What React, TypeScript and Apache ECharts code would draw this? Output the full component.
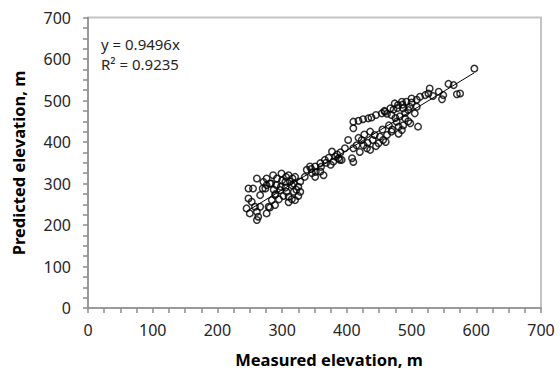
import React, { useEffect, useRef } from "react";
import * as echarts from "echarts";

// Measured vs predicted elevation (m)
const measured: number[] = [
  597, 557, 565, 575, 570, 549, 542, 547, 528, 526, 533, 521,
  410, 418, 425, 433, 438, 410, 454, 459, 467, 474, 479, 485, 492, 500, 508, 513, 469, 487, 495, 505, 508,
  436, 443, 451, 462, 469, 480, 485, 477, 490, 498, 510, 456, 449,
  402, 410, 415, 423, 426, 431, 436, 408, 397, 420, 410, 389,
  377, 382, 387, 392, 379, 366, 359, 351, 343, 338, 346, 359, 364, 335, 351,
  261, 276, 286, 299, 310, 320, 281, 291, 305, 315, 325, 328, 297, 307, 318, 310, 320, 289, 284, 279, 289,
  271, 274, 266, 248, 255, 248, 253, 245, 250, 261, 263, 261, 281, 276, 266, 258,
  292, 300, 305, 312, 318, 322, 298, 287, 302, 315, 325, 310, 295, 283, 290, 306, 316, 328, 276, 270,
  345, 352, 368, 372, 385, 390, 375, 360,
  445, 462, 472, 478, 486, 500, 497, 458, 475, 482, 490, 465, 470, 487, 495, 455, 480, 460, 440, 427, 418, 445, 432,
];
const predicted: number[] = [
  577, 540, 537, 517, 515, 513, 521, 503, 529, 517, 511, 513,
  449, 451, 455, 457, 459, 433, 469, 473, 481, 493, 489, 497, 497, 505, 502, 509, 465, 481, 477, 469, 485,
  425, 417, 413, 417, 425, 437, 429, 449, 457, 445, 437, 405, 397,
  405, 385, 392, 405, 392, 385, 381, 361, 385, 376, 352, 357,
  377, 365, 361, 357, 353, 357, 349, 341, 341, 333, 325, 329, 320, 316, 316,
  312, 312, 320, 324, 320, 316, 300, 296, 304, 296, 292, 280, 284, 280, 280, 268, 260, 272, 260, 244, 248,
  304, 288, 272, 288, 288, 264, 256, 240, 228, 232, 220, 212, 242, 228, 244, 244,
  312, 308, 290, 305, 300, 285, 292, 285, 270, 262, 270, 255, 262, 300, 275, 316, 312, 305, 296, 288,
  335, 328, 350, 362, 370, 375, 345, 340,
  465, 468, 478, 482, 490, 495, 485, 475, 458, 462, 470, 440, 430, 440, 450, 430, 420, 400, 405, 418, 410, 390, 398,
];

// Fitted trend through the origin
const slope = 0.9496;
const rSquared = 0.9235;
const axisTicks: number[] = [0, 100, 200, 300, 400, 500, 600, 700];

const FONT = "'Noto Sans', 'DejaVu Sans', sans-serif";

export default function App() {
  const ref = useRef<HTMLDivElement>(null);

  useEffect(() => {
    if (!ref.current) return;
    const chart = echarts.init(ref.current, null, { renderer: "svg" });

    const points = measured.map((m, i) => [m, predicted[i]]);
    const xMin = Math.min(...measured);
    const xMax = Math.max(...measured);
    const trend = [
      [xMin, slope * xMin],
      [xMax, slope * xMax],
    ];

    const axisMin = axisTicks[0];
    const axisMax = axisTicks[axisTicks.length - 1];
    const step = axisTicks[1] - axisTicks[0];

    const axisCommon = {
      type: "value" as const,
      min: axisMin,
      max: axisMax,
      interval: step,
      axisLine: { show: true, onZero: false, lineStyle: { color: "#8c8c8c", width: 1.5 } },
      axisTick: { show: true, inside: false, length: 5, lineStyle: { color: "#8c8c8c", width: 1.5 } },
      minorTick: { show: true, splitNumber: 4, length: 5, lineStyle: { color: "#8c8c8c", width: 1.5 } },
      splitLine: { show: false },
      minorSplitLine: { show: false },
      axisLabel: {
        color: "#262626",
        fontFamily: FONT,
        fontSize: 16,
      },
    };

    chart.setOption({
      animation: false,
      grid: {
        left: 88,
        right: 19,
        top: 17.5,
        bottom: 66,
        show: true,
        borderColor: "#c4c4c4",
        borderWidth: 2,
        backgroundColor: "transparent",
      },
      xAxis: { ...axisCommon, axisLabel: { ...axisCommon.axisLabel, margin: 14 } },
      yAxis: { ...axisCommon, axisLabel: { ...axisCommon.axisLabel, margin: 17 } },
      series: [
        {
          type: "line",
          data: trend,
          showSymbol: false,
          symbol: "none",
          lineStyle: { color: "#000", width: 1 },
          z: 1,
        },
        {
          type: "scatter",
          data: points,
          symbol: "circle",
          symbolSize: 6.5,
          itemStyle: { color: "rgba(0,0,0,0)", borderColor: "#000", borderWidth: 1.5 },
          z: 2,
        },
      ],
      graphic: [
        {
          type: "text",
          left: 101,
          top: 34,
          style: {
            text: `y = ${slope}x\nR² = ${rSquared}`,
            font: `15px ${FONT}`,
            lineHeight: 20,
            fill: "#262626",
          },
        },
        {
          type: "text",
          x: 329,
          y: 359,
          style: {
            text: "Measured elevation, m",
            font: `bold 16.5px ${FONT}`,
            fill: "#000",
            textAlign: "center",
            textVerticalAlign: "middle",
          },
        },
        {
          type: "text",
          x: 18,
          y: 163,
          rotation: Math.PI / 2,
          style: {
            text: "Predicted elevation, m",
            font: `bold 16.5px ${FONT}`,
            fill: "#000",
            textAlign: "center",
            textVerticalAlign: "middle",
          },
        },
      ],
    });

    return () => chart.dispose();
  }, []);

  return (
    <div
      ref={ref}
      style={{ position: "fixed", left: 0, top: 0, width: 560, height: 374, background: "#fff" }}
    />
  );
}
